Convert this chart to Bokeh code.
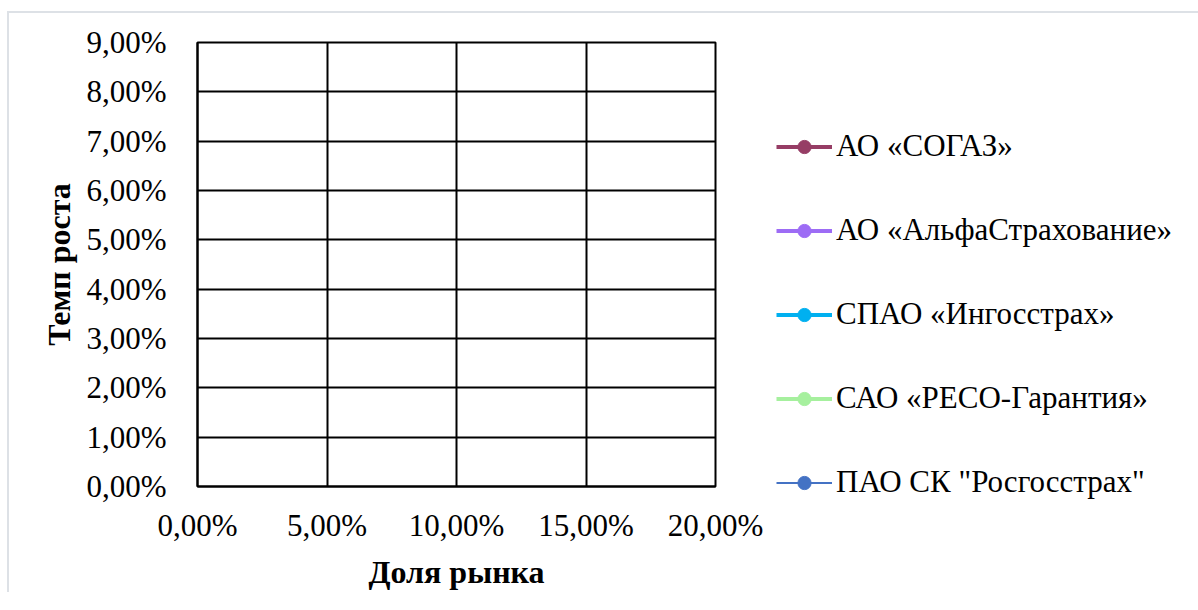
from bokeh.plotting import figure
from bokeh.models import (Range1d, FixedTicker, CustomJSTickFormatter, Legend,
                          LegendItem)
from bokeh.embed import file_html
from bokeh.resources import INLINE

# ---- data (no points are visible in the reference: every series has no plotted value) ----
companies = ["АО «СОГАЗ»", "АО «АльфаСтрахование»", "СПАО «Ингосстрах»",
             "САО «РЕСО-Гарантия»", "ПАО СК \"Росгосстрах\""]
nan = float("nan")
sogaz_share, sogaz_growth = [nan], [nan]
alfa_share, alfa_growth = [nan], [nan]
ingos_share, ingos_growth = [nan], [nan]
reso_share, reso_growth = [nan], [nan]
rgs_share, rgs_growth = [nan], [nan]
series_share = [sogaz_share, alfa_share, ingos_share, reso_share, rgs_share]
series_growth = [sogaz_growth, alfa_growth, ingos_growth, reso_growth, rgs_growth]

x_ticks = [0.0, 0.05, 0.10, 0.15, 0.20]
y_ticks = [0.0, 0.01, 0.02, 0.03, 0.04, 0.05, 0.06, 0.07, 0.08, 0.09]
x_title = "Доля рынка"
y_title = "Темп роста"

# ---- styles ----
colors = ["#963D65", "#9D6CF5", "#00B0F0", "#A6F09E", "#4472C4"]
widths = [4, 4, 4, 4, 2]
FONT = "Liberation Serif"

p = figure(frame_width=518, frame_height=444, output_backend="svg",
           toolbar_location=None,
           x_range=Range1d(x_ticks[0], x_ticks[-1]),
           y_range=Range1d(y_ticks[0], y_ticks[-1]),
           min_border_left=188, min_border_top=29, min_border_bottom=100,
           min_border_right=0)
p.styles = {"border-left": "2px solid #DDE1E6", "border-top": "2px solid #DDE1E6",
            "margin-top": "11px", "margin-left": "7px"}
p.background_fill_color = "white"
p.border_fill_color = "white"
p.outline_line_color = "black"
p.outline_line_width = 2

for ax in (p.xaxis[0], p.yaxis[0]):
    ax.major_label_text_font = FONT
    ax.major_label_text_font_size = "31px"
    ax.major_label_text_color = "black"
    ax.axis_label_text_font = FONT
    ax.axis_label_text_font_size = "32px"
    ax.axis_label_text_font_style = "bold"
    ax.axis_label_text_color = "black"
    ax.major_tick_line_color = None
    ax.minor_tick_line_color = None
    ax.axis_line_color = "black"
    ax.axis_line_width = 2
    ax.formatter = CustomJSTickFormatter(
        code="return (tick*100).toFixed(2).replace('.', ',') + '%';")

p.xaxis[0].ticker = FixedTicker(ticks=x_ticks)
p.yaxis[0].ticker = FixedTicker(ticks=y_ticks)
p.xaxis[0].axis_label = x_title
p.yaxis[0].axis_label = y_title
p.xaxis[0].major_label_standoff = 15
p.yaxis[0].major_label_standoff = 25
p.xaxis[0].axis_label_standoff = 8
p.yaxis[0].axis_label_standoff = 6

p.xgrid.ticker = FixedTicker(ticks=x_ticks)
p.ygrid.ticker = FixedTicker(ticks=y_ticks)
for g in (p.xgrid[0], p.ygrid[0]):
    g.grid_line_color = "black"
    g.grid_line_width = 2

items = []
for name, xs, ys, c, w in zip(companies, series_share, series_growth, colors, widths):
    r1 = p.line(x=xs, y=ys, line_color=c, line_width=w)
    r2 = p.scatter(x=xs, y=ys, marker="circle", size=14, fill_color=c,
                   line_color=c)
    items.append(LegendItem(label=name, renderers=[r1, r2]))

legend = Legend(items=items, location=(61, -14), orientation="vertical",
                label_text_font=FONT, label_text_font_size="31px",
                label_text_color="black", glyph_width=56, glyph_height=33,
                label_height=33, spacing=48, label_standoff=4, padding=0,
                margin=0, border_line_color=None, background_fill_alpha=0)
p.add_layout(legend, "right")

open("out.html", "w").write(file_html(p, INLINE))
